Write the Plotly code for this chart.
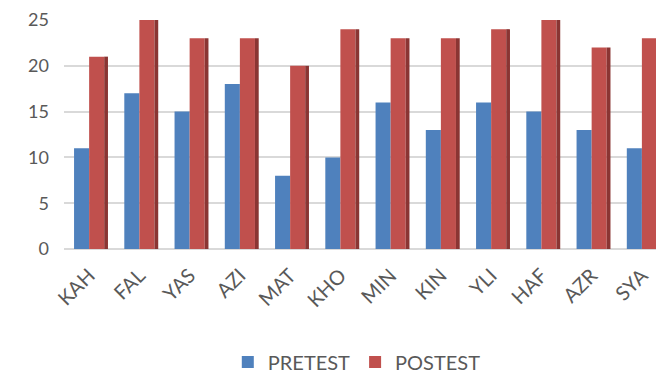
import plotly.graph_objects as go

categories = ["KAH", "FAL", "YAS", "AZI", "MAT", "KHO", "MIN", "KIN", "YLI", "HAF", "AZR", "SYA"]
pretest = [11, 17, 15, 18, 8, 10, 16, 13, 16, 15, 13, 11]
postest = [21, 25, 23, 23, 20, 24, 23, 23, 24, 25, 22, 23]

FONT = "Lato"
GREY = "#595959"

fig = go.Figure()
fig.add_trace(go.Bar(x=categories, y=pretest, name="PRETEST", marker_color="#4F81BD",
                     offset=-0.3, width=0.3, marker_line_width=0))
fig.add_trace(go.Bar(x=categories, y=postest, name="POSTEST", marker_color="#C0504D",
                     offset=0.0, width=0.3, marker_line_width=0))
# 3D side face of the POSTEST bars
fig.add_trace(go.Bar(x=categories, y=postest, name="side", marker_color="#8A3533",
                     offset=0.3, width=0.075, marker_line_width=0, showlegend=False,
                     hoverinfo="skip"))

# the page body has an 8px margin, so the figure is 8px smaller than the window
fig.update_layout(
    width=656, height=368,
    margin=dict(l=56, r=0, t=12, b=127),
    barmode="overlay",
    paper_bgcolor="white", plot_bgcolor="white",
    font=dict(family=FONT, color=GREY, size=18),
    showlegend=True,
    legend=dict(orientation="h", xref="paper", x=0.488, xanchor="center",
                yref="container", y=0.038, yanchor="middle",
                font=dict(size=20, color=GREY, family=FONT), itemwidth=30,
                traceorder="normal"),
    xaxis=dict(range=[-0.5, 11.44], tickangle=-45, showgrid=False, showline=False,
               ticks="", automargin=False, ticklabelstandoff=10,
               tickfont=dict(size=20, color=GREY, family=FONT), fixedrange=True),
    yaxis=dict(range=[0, 25], tickvals=[0, 5, 10, 15, 20, 25], showgrid=True,
               gridcolor="#D9D9D9", gridwidth=1.5, zeroline=True, zerolinecolor="#D9D9D9",
               zerolinewidth=1.5, showline=False, ticks="", ticklabelstandoff=14,
               automargin=False, ticklabeloverflow="allow",
               tickfont=dict(size=18, color=GREY, family=FONT)),
)

fig.write_html("out.html")
